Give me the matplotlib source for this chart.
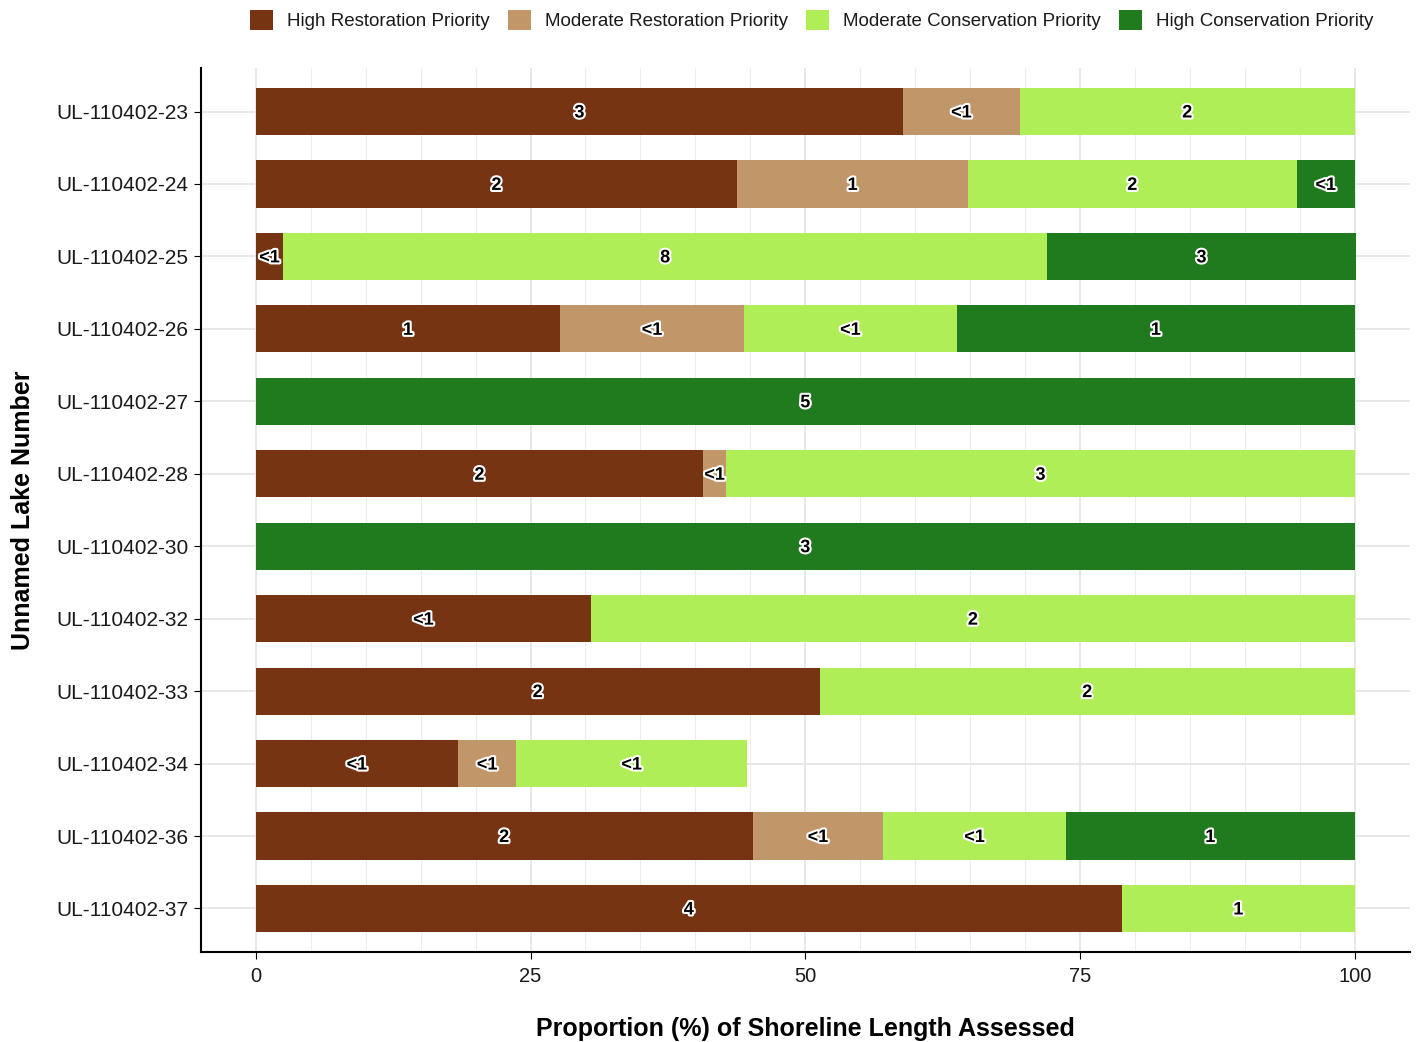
import matplotlib
matplotlib.use("Agg")
import matplotlib.pyplot as plt
import matplotlib.patheffects as pe
from matplotlib.patches import Patch
import numpy as np

plt.rcParams['font.family'] = ['Liberation Sans', 'DejaVu Sans']

# lakes, top to bottom
lakes = ["UL-110402-23", "UL-110402-24", "UL-110402-25", "UL-110402-26",
         "UL-110402-27", "UL-110402-28", "UL-110402-30", "UL-110402-32",
         "UL-110402-33", "UL-110402-34", "UL-110402-36", "UL-110402-37"]

categories = ["High Restoration Priority", "Moderate Restoration Priority",
              "Moderate Conservation Priority", "High Conservation Priority"]
colors = ["#763412", "#C1976A", "#B0EE58", "#207A1E"]

# proportion (%) of shoreline per category
high_rest = [58.9, 43.8, 2.5, 27.7, 0, 40.7, 0, 30.5, 51.3, 18.4, 45.2, 78.8]
mod_rest = [10.6, 21.0, 0, 16.7, 0, 2.1, 0, 0, 0, 5.3, 11.9, 0]
mod_cons = [30.5, 29.9, 69.5, 19.4, 0, 57.2, 0, 69.5, 48.7, 21.0, 16.6, 21.2]
high_cons = [0, 5.3, 28.1, 36.2, 100, 0, 100, 0, 0, 0, 26.3, 0]

# segment labels (shoreline length)
lab_high_rest = ["3", "2", "<1", "1", "", "2", "", "<1", "2", "<1", "2", "4"]
lab_mod_rest = ["<1", "1", "", "<1", "", "<1", "", "", "", "<1", "<1", ""]
lab_mod_cons = ["2", "2", "8", "<1", "", "3", "", "2", "2", "<1", "<1", "1"]
lab_high_cons = ["", "<1", "3", "1", "5", "", "3", "", "", "", "1", ""]

series = [high_rest, mod_rest, mod_cons, high_cons]
labels = [lab_high_rest, lab_mod_rest, lab_mod_cons, lab_high_cons]

fig = plt.figure(figsize=(14.24, 10.42), dpi=100)
ax = fig.add_axes([0.141, 0.0864, 0.849, 0.8483])

y = np.arange(len(lakes))
left = np.zeros(len(lakes))
for vals, labs, col in zip(series, labels, colors):
    vals = np.array(vals, dtype=float)
    ax.barh(y, vals, left=left, height=0.65, color=col, zorder=2)
    for i, (v, t) in enumerate(zip(vals, labs)):
        if v > 0 and t:
            ax.text(left[i] + v / 2, y[i] + 0.02, t, ha='center', va='center',
                    fontsize=13, fontweight='bold', color='black', zorder=3,
                    path_effects=[pe.withStroke(linewidth=3, foreground='white')])
    left += vals

ax.set_xlim(-5, 105)
ax.set_ylim(len(lakes) - 0.4, -0.6)
ax.set_yticks(y)
ax.set_yticklabels(lakes, fontsize=15, color='#1a1a1a')
ax.set_xticks([0, 25, 50, 75, 100])
ax.set_xticks(np.arange(0, 101, 5), minor=True)
ax.tick_params(axis='x', labelsize=14.5, labelcolor='#1a1a1a', length=5, pad=6)
ax.tick_params(axis='y', length=5, pad=4)
ax.tick_params(axis='x', which='minor', length=0)

ax.grid(axis='x', which='major', color='#E6E6E6', linewidth=1.3, zorder=0)
ax.grid(axis='x', which='minor', color='#EDEDED', linewidth=0.8, zorder=0)
ax.grid(axis='y', which='major', color='#E6E6E6', linewidth=1.3, zorder=0)
ax.set_axisbelow(True)

for s in ['top', 'right']:
    ax.spines[s].set_visible(False)
for s in ['left', 'bottom']:
    ax.spines[s].set_linewidth(1.5)
    ax.spines[s].set_color('black')

ax.set_xlabel("Proportion (%) of Shoreline Length Assessed", fontsize=18,
              fontweight='bold', labelpad=22)
ax.set_ylabel("Unnamed Lake Number", fontsize=18, fontweight='bold', labelpad=15)

handles = [Patch(facecolor=c, edgecolor='none') for c in colors]
fig.legend(handles, categories, loc='center', bbox_to_anchor=(0.570, 0.981),
           ncol=4, frameon=False, fontsize=13.5, labelcolor='#1a1a1a',
           handlelength=1.25, handleheight=1.25, handletextpad=0.75,
           columnspacing=0.95)

fig.savefig("out.png", dpi=100)
